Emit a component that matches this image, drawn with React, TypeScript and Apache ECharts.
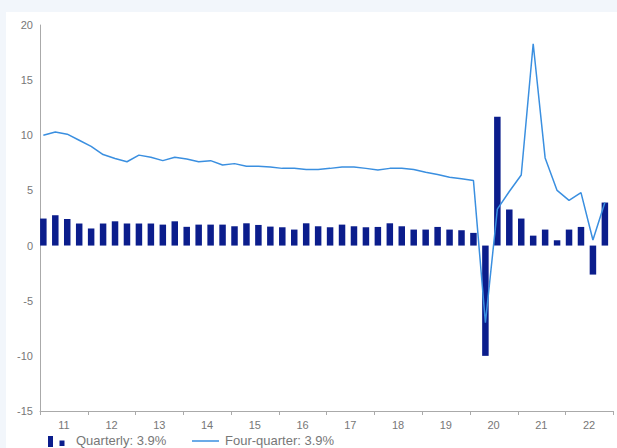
import React, { useEffect, useRef } from 'react';
import * as echarts from 'echarts';

// ---- Data (2011 Q1 – 2022 Q4) ----
const yearTickLabels = ['11', '12', '13', '14', '15', '16', '17', '18', '19', '20', '21', '22'];

const quarterlyChange = [
  2.45, 2.75, 2.4, 2.0,
  1.55, 2.0, 2.2, 2.0,
  2.0, 2.0, 1.9, 2.2,
  1.7, 1.9, 1.9, 1.9,
  1.75, 2.02, 1.87, 1.72,
  1.66, 1.45, 2.02, 1.75,
  1.66, 1.9, 1.75, 1.66,
  1.69, 2.02, 1.75, 1.45,
  1.45, 1.69, 1.45, 1.39,
  1.15, -10.0, 11.67, 3.26,
  2.45, 0.9, 1.45, 0.48,
  1.45, 1.69, -2.63, 3.9,
];

const fourQuarterChange = [
  10.0, 10.3, 10.1, 9.55,
  9.0, 8.25, 7.9, 7.6,
  8.2, 8.0, 7.7, 8.0,
  7.85, 7.6, 7.7, 7.3,
  7.43, 7.2, 7.2, 7.13,
  7.0, 7.0, 6.9, 6.9,
  7.0, 7.13, 7.13, 7.0,
  6.86, 7.0, 7.0, 6.9,
  6.65, 6.45, 6.2, 6.05,
  5.9, -7.0, 3.3, 4.9,
  6.4, 18.3, 7.95, 5.0,
  4.1, 4.8, 0.5, 3.9,
];

const legendQuarterly = 'Quarterly: 3.9%';
const legendFourQuarter = 'Four-quarter: 3.9%';

const BAR_COLOR = '#0b1d8c';
const LINE_COLOR = '#3a8fe0';
const AXIS_COLOR = '#aaaaaa';
const TEXT_COLOR = '#777777';
const FONT = '"Liberation Sans", Arial, sans-serif';

// time position of each quarter, in years since start of 2011
const quarterTime = (i: number) => i / 4 + 0.07;

export default function App() {
  const ref = useRef<HTMLDivElement>(null);

  useEffect(() => {
    if (!ref.current) return;
    const chart = echarts.init(ref.current, undefined, { renderer: 'svg' });

    const barData = quarterlyChange.map((v, i) => [quarterTime(i), v]);
    const lineData = fourQuarterChange.map((v, i) => [quarterTime(i), v]);

    chart.setOption({
      animation: false,
      backgroundColor: 'transparent',
      textStyle: { fontFamily: FONT },
      grid: { left: 40, right: 4, top: 25, bottom: 37 },
      xAxis: [
        {
          type: 'value',
          min: 0,
          max: 11.99,
          interval: 1,
          position: 'bottom',
          axisLine: { show: true, onZero: false, lineStyle: { color: AXIS_COLOR, width: 1 } },
          axisTick: { show: true, length: 4, lineStyle: { color: AXIS_COLOR } },
          axisLabel: { show: false },
          splitLine: { show: false },
        },
        {
          type: 'category',
          data: yearTickLabels,
          boundaryGap: true,
          position: 'bottom',
          axisLine: { show: false, onZero: false },
          axisTick: { show: false },
          splitLine: { show: false },
          axisLabel: {
            show: true,
            interval: 0,
            color: TEXT_COLOR,
            fontSize: 11,
            fontFamily: FONT,
            margin: 8,
          },
        },
      ],
      yAxis: {
        type: 'value',
        min: -15,
        max: 20,
        interval: 5,
        axisLine: { show: true, onZero: false, lineStyle: { color: AXIS_COLOR, width: 1 } },
        axisTick: { show: false },
        splitLine: { show: false },
        axisLabel: { color: TEXT_COLOR, fontSize: 11, fontFamily: FONT, margin: 7 },
      },
      series: [
        {
          name: legendQuarterly,
          type: 'bar',
          xAxisIndex: 0,
          data: barData,
          barWidth: 6.5,
          itemStyle: { color: BAR_COLOR },
          z: 2,
        },
        {
          name: legendFourQuarter,
          type: 'line',
          xAxisIndex: 0,
          data: lineData,
          showSymbol: false,
          symbol: 'none',
          lineStyle: { color: LINE_COLOR, width: 1.5 },
          z: 3,
        },
      ],
      graphic: [
        { type: 'rect', shape: { x: 48, y: 436, width: 5, height: 11 }, style: { fill: BAR_COLOR }, silent: true },
        { type: 'rect', shape: { x: 59.5, y: 440.5, width: 5, height: 5.5 }, style: { fill: BAR_COLOR }, silent: true },
        {
          type: 'text',
          x: 76,
          y: 440.5,
          style: { text: legendQuarterly, fill: TEXT_COLOR, font: `13px ${FONT}`, verticalAlign: 'middle', align: 'left' },
          silent: true,
        },
        {
          type: 'line',
          shape: { x1: 192, y1: 441, x2: 219, y2: 441 },
          style: { stroke: LINE_COLOR, lineWidth: 1.5 },
          silent: true,
        },
        {
          type: 'text',
          x: 225,
          y: 440.5,
          style: { text: legendFourQuarter, fill: TEXT_COLOR, font: `13px ${FONT}`, verticalAlign: 'middle', align: 'left' },
          silent: true,
        },
      ],
    });

    return () => chart.dispose();
  }, []);

  return (
    <div style={{ position: 'fixed', left: 0, top: 0, width: 617, height: 448, background: '#f2f6fb', overflow: 'hidden' }}>
      <div style={{ position: 'absolute', left: 6, top: 12, right: 0, bottom: 0, background: '#ffffff' }} />
      <div ref={ref} style={{ position: 'absolute', left: 0, top: 0, width: 617, height: 448 }} />
    </div>
  );
}
